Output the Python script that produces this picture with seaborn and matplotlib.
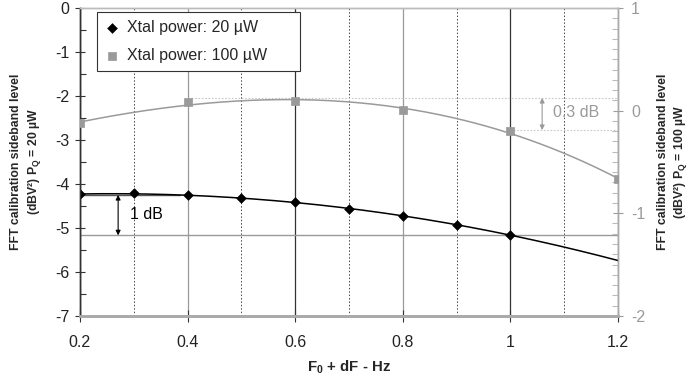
import numpy as np
import pandas as pd
import matplotlib
matplotlib.use("Agg")
import matplotlib.pyplot as plt
from matplotlib.ticker import MultipleLocator
import seaborn as sns

# data
freq_20 = [0.2, 0.3, 0.4, 0.5, 0.6, 0.7, 0.8, 0.9, 1.0]
level_20 = [-4.24, -4.21, -4.26, -4.32, -4.42, -4.565, -4.73, -4.93, -5.16]
freq_100 = [0.2, 0.4, 0.6, 0.8, 1.0, 1.2]
level_100 = [-0.12, 0.08, 0.09, 0.005, -0.195, -0.67]

sns.set_style("white")
plt.rcParams['font.family'] = ['Liberation Sans', 'DejaVu Sans']
plt.rcParams['axes.unicode_minus'] = False
plt.rcParams['mathtext.fontset'] = 'custom'
plt.rcParams['mathtext.rm'] = 'Liberation Sans:bold'
plt.rcParams['mathtext.it'] = 'Liberation Sans:bold'
plt.rcParams['mathtext.bf'] = 'Liberation Sans:bold'

GREY = '#9a9a9a'

df20 = pd.DataFrame({'f': freq_20, 'L': level_20})
df100 = pd.DataFrame({'f': freq_100, 'L': level_100})

# polynomial trendlines (as in the spreadsheet original)
xf = np.linspace(0.2, 1.2, 200)
fit20 = pd.DataFrame({'f': xf, 'L': np.polyval(np.polyfit(freq_20, level_20, 2), xf)})
fit100 = pd.DataFrame({'f': xf, 'L': np.polyval(np.polyfit(freq_100, level_100, 3), xf)})

fig = plt.figure(figsize=(6.89, 3.81), dpi=100)
ax = fig.add_axes([0.116, 0.171, 0.781, 0.808])
ax2 = ax.twinx()

# left axis: 20 uW
sns.lineplot(data=fit20, x='f', y='L', ax=ax, color='black', lw=1.1, zorder=3)
sns.scatterplot(data=df20, x='f', y='L', ax=ax, color='black', marker='D', s=25,
                edgecolor='black', zorder=4, label='Xtal power: 20 µW', legend=False)

# right axis: 100 uW
sns.lineplot(data=fit100, x='f', y='L', ax=ax2, color=GREY, lw=1.1, zorder=3)
sns.scatterplot(data=df100, x='f', y='L', ax=ax2, color=GREY, marker='s', s=40,
                edgecolor=GREY, zorder=4, label='Xtal power: 100 µW', legend=False)

ax.set_xlim(0.2, 1.2)
ax.set_ylim(-7, 0)
ax2.set_ylim(-2, 1)
ax.xaxis.set_major_locator(MultipleLocator(0.2))
ax.xaxis.set_minor_locator(MultipleLocator(0.1))
ax.yaxis.set_major_locator(MultipleLocator(1))
ax.yaxis.set_minor_locator(MultipleLocator(0.5))
ax2.yaxis.set_major_locator(MultipleLocator(1))
ax2.yaxis.set_minor_locator(MultipleLocator(0.1))
ax.xaxis.set_major_formatter(plt.FuncFormatter(lambda v, p: f"{v:g}"))

# vertical grid
ax.grid(False)
ax2.grid(False)
ax.xaxis.grid(True, which='major', color='#333333', lw=0.9)
ax.xaxis.grid(True, which='minor', color='#444444', lw=0.7, ls=(0, (1.5, 2)))
for gl in ax.get_xgridlines():
    if round(gl.get_xdata()[0] * 5) % 2 == 0:
        gl.set_color('#9a9a9a')

# annotation: 1 dB
ax.plot([0.2, 0.386], [-4.25, -4.25], color='#555555', lw=1.0, zorder=2)
ax.axhline(-5.17, color=GREY, lw=1.0, zorder=2)
ax.annotate('', xy=(0.271, -5.17), xytext=(0.271, -4.25),
            arrowprops=dict(arrowstyle='<|-|>', color='black', lw=0.8,
                            mutation_scale=7, shrinkA=0, shrinkB=0))
ax.text(0.293, -4.69, '1 dB', fontsize=11.5, va='center', ha='left', color='black')

# annotation: 0.3 dB
ax2.plot([0.4, 1.2], [0.124, 0.124], color='#c8c8c8', lw=0.8, ls=(0, (1.5, 1.5)), zorder=2)
ax2.plot([1.0, 1.2], [-0.19, -0.19], color='#c8c8c8', lw=0.8, ls=(0, (1.5, 1.5)), zorder=2)
ax2.annotate('', xy=(1.059, -0.19), xytext=(1.059, 0.124),
             arrowprops=dict(arrowstyle='<|-|>', color=GREY, lw=0.8,
                             mutation_scale=7, shrinkA=0, shrinkB=0))
ax2.text(1.08, -0.02, '0.3 dB', fontsize=11.5, va='center', ha='left', color=GREY)

# spines
for a in (ax, ax2):
    a.spines['top'].set_color('#bbbbbb')
    a.spines['top'].set_linewidth(1.0)
    a.spines['bottom'].set_color('#aaaaaa')
    a.spines['bottom'].set_linewidth(2.0)
    a.spines['left'].set_color('#333333')
    a.spines['left'].set_linewidth(1.0)
    a.spines['right'].set_color('#aaaaaa')
    a.spines['right'].set_linewidth(1.0)

ax.tick_params(axis='y', which='major', direction='inout', length=7, width=0.8,
               color='#333333', labelsize=11.5, labelcolor='#222222', pad=4, left=True)
ax.tick_params(axis='y', which='minor', direction='in', length=4, width=0.8,
               color='#333333', left=True)
ax.tick_params(axis='x', which='major', direction='inout', length=8, width=0.8,
               color='#333333', labelsize=11.5, labelcolor='#222222', pad=10, bottom=True)
ax.tick_params(axis='x', which='minor', length=0)
ax2.tick_params(axis='y', which='major', direction='inout', length=7, width=0.8,
                color=GREY, labelsize=11.5, labelcolor=GREY, pad=6, right=True)
ax2.tick_params(axis='y', which='minor', direction='in', length=4, width=0.8,
                color='#bbbbbb', right=True)

ax.set_xlabel('F$_0$ + dF - Hz', fontsize=10.8, fontweight='bold', labelpad=6)
ax.set_ylabel('FFT calibration sideband level\n(dBV²) P$_Q$ = 20 µW',
              fontsize=8.8, fontweight='bold', labelpad=9, linespacing=1.35)
ax2.set_ylabel('FFT calibration sideband level\n(dBV²) P$_Q$ = 100 µW',
               fontsize=8.8, fontweight='bold', labelpad=8, linespacing=1.35,
               rotation=90)

h1, l1 = ax.get_legend_handles_labels()
h2, l2 = ax2.get_legend_handles_labels()
leg = ax2.legend(h1 + h2, l1 + l2, loc='upper left',
                 bbox_to_anchor=(0.032, 0.8, 0.377, 0.187), mode='expand',
                 frameon=True, fancybox=False, framealpha=1, edgecolor='#333333',
                 fontsize=11.5, labelspacing=0.8, handlelength=0.8, handletextpad=0.6,
                 borderpad=0.5, borderaxespad=0)
leg.get_frame().set_linewidth(0.8)
ax2.set_zorder(ax.get_zorder() + 1)
ax2.patch.set_visible(False)

fig.savefig('out.png', dpi=100)
